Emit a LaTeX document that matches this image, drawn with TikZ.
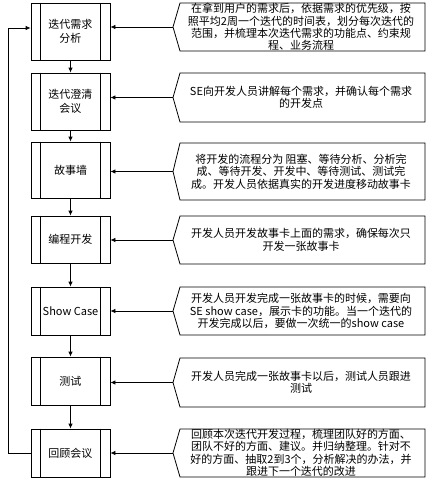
\documentclass[tikz,border=0pt]{standalone}
\usepackage{fontspec}
\newfontfamily\cjk{Noto Sans CJK SC}
\usetikzlibrary{arrows.meta}
\tikzset{
  proc/.style={draw, line width=0.8pt, minimum width=79pt, inner sep=0pt, align=center, font=\cjk\fontsize{11}{13.5}\selectfont},
  ctext/.style={inner sep=0pt, align=center, font=\cjk\fontsize{11}{12.4}\selectfont},
  cshape/.style={draw, line width=0.8pt},
  flow/.style={draw, line width=0.8pt, -{Latex[length=5pt,width=4.5pt]}},
}
\newcommand\mycallout[4]{%
  \draw[cshape] (180,#2-#3/2) -- (425,#2-#3/2) -- (425,#2+#3/2) -- (180,#2+#3/2) -- (173,#2) -- cycle;
  \node[ctext] (#1) at (301,#2) {#4};
  \coordinate (#1tip) at (173,#2);
}
\newcommand\innerlines[1]{%
  \draw[line width=0.8pt] ([xshift=10pt]#1.north west) -- ([xshift=10pt]#1.south west);
  \draw[line width=0.8pt] ([xshift=-10pt]#1.north east) -- ([xshift=-10pt]#1.south east);
}
\begin{document}
\begin{tikzpicture}[x=1pt,y=-1pt]
\useasboundingbox (0,0) rectangle (426,480);
\fill[white] (0,0) rectangle (426,480);

\node[proc, minimum height=57pt] (b1) at (70.5,31.5) {迭代需求\\分析};
\node[proc, minimum height=57pt] (b2) at (70.5,101.5) {迭代澄清\\会议};
\node[proc, minimum height=56pt] (b3) at (70.5,170) {故事墙};
\node[proc, minimum height=47pt] (b4) at (70.5,239.5) {编程开发};
\node[proc, minimum height=48pt] (b5) at (70.5,311) {Show Case};
\node[proc, minimum height=48pt] (b6) at (70.5,381) {测试};
\node[proc, minimum height=48pt] (b7) at (70.5,453) {回顾会议};
\foreach \b in {b1,b2,b3,b4,b5,b6,b7} {\innerlines{\b}}

\mycallout{c1}{27}{48}{在拿到用户的需求后，依据需求的优先级，按\\照平均2周一个迭代的时间表，划分每次迭代的\\范围，并梳理本次迭代需求的功能点、约束规\\程、业务流程}
\mycallout{c2}{97.5}{49}{SE向开发人员讲解每个需求，并确认每个需求\\的开发点}
\mycallout{c3}{171.5}{57}{将开发的流程分为 阻塞、等待分析、分析完\\成、等待开发、开发中、等待测试、测试完\\成。开发人员依据真实的开发进度移动故事卡}
\mycallout{c4}{240}{48}{开发人员开发故事卡上面的需求，确保每次只\\开发一张故事卡}
\mycallout{c5}{311}{48}{开发人员开发完成一张故事卡的时候，需要向\\SE show case，展示卡的功能。当一个迭代的\\开发完成以后，要做一次统一的show case}
\mycallout{c6}{382.5}{49}{开发人员完成一张故事卡以后，测试人员跟进\\测试}
\mycallout{c7}{453}{48}{回顾本次迭代开发过程，梳理团队好的方面、\\团队不好的方面、建议。并归纳整理。针对不\\好的方面、抽取2到3个，分析解决的办法，并\\跟进下一个迭代的改进}

\draw[flow] (b1) -- (b2);
\draw[flow] (b2) -- (b3);
\draw[flow] (b3) -- (b4);
\draw[flow] (b4) -- (b5);
\draw[flow] (b5) -- (b6);
\draw[flow] (b6) -- (b7);

\foreach \i in {1,...,7} {\draw[flow] (c\i tip) -- (b\i.east |- c\i tip);}

\coordinate (fbtop) at (8,28);
\coordinate (fbin) at (31,28);
\draw[flow] (b7.west) -| (fbtop) -- (b1.west |- fbin);
\end{tikzpicture}
\end{document}
